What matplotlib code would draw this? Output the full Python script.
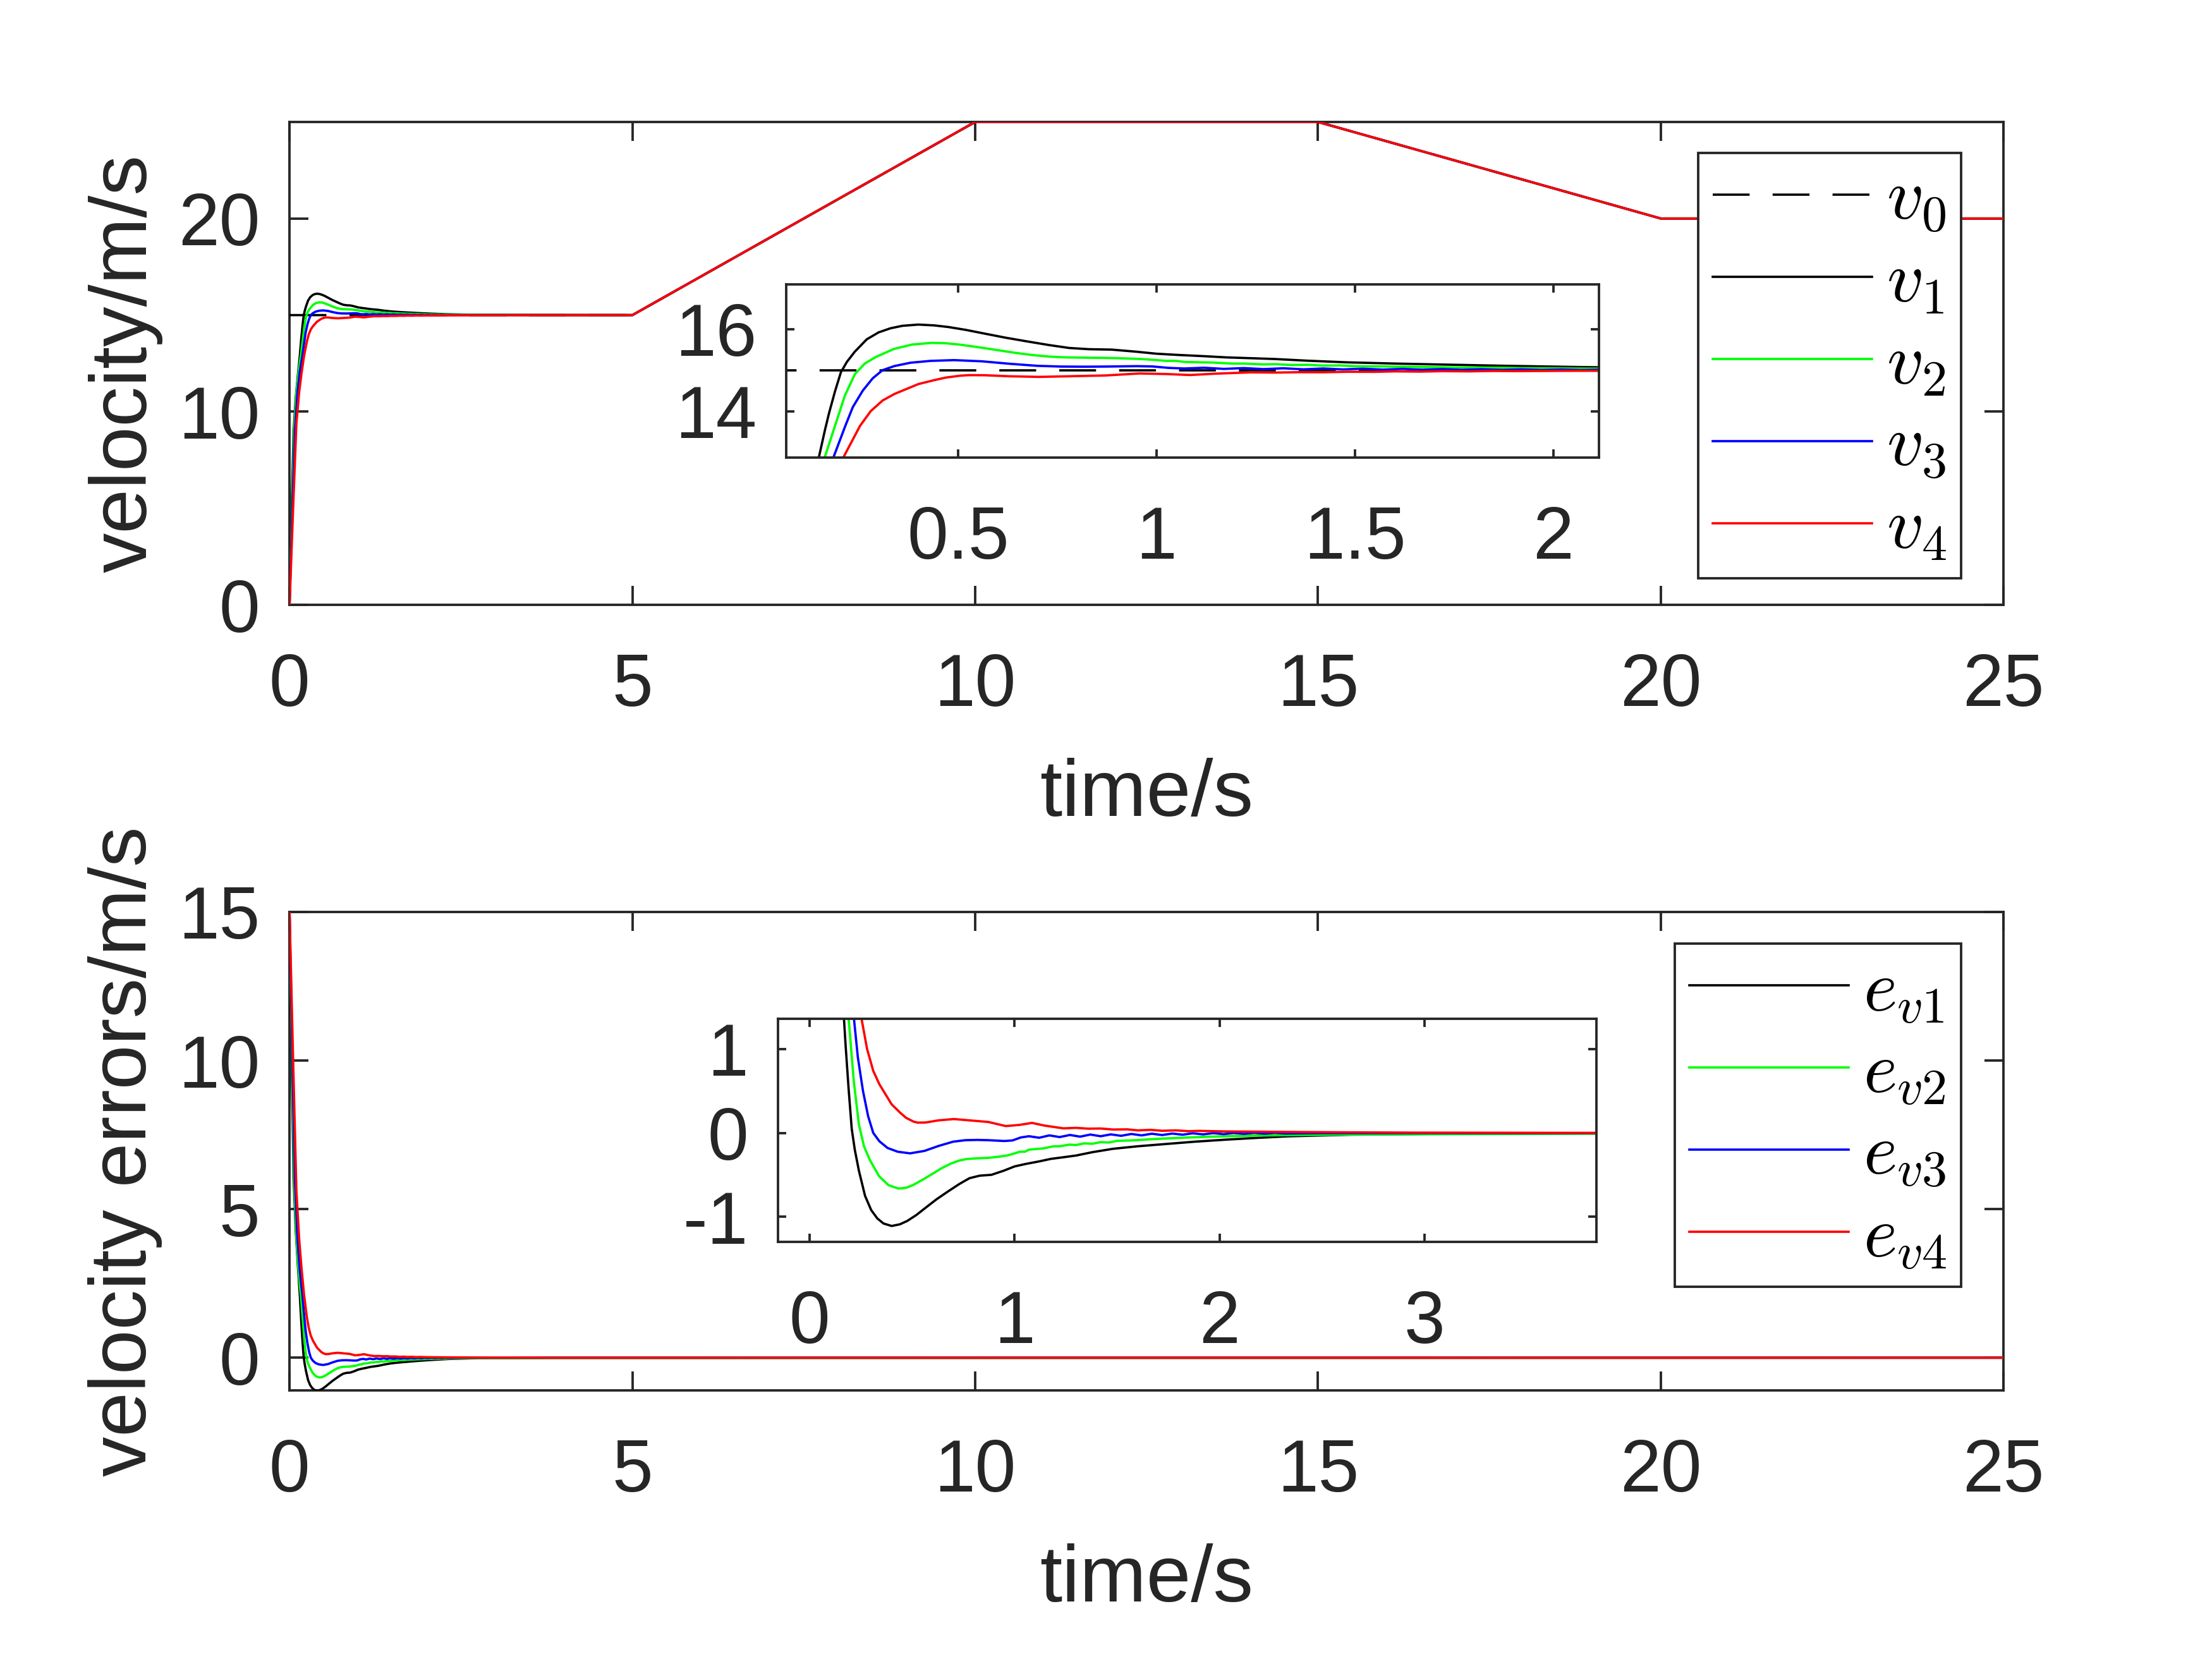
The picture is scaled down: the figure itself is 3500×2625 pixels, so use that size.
import numpy as np
import matplotlib
matplotlib.use("Agg")
import matplotlib.pyplot as plt

plt.rcParams['font.family'] = ['Liberation Sans', 'DejaVu Sans']
plt.rcParams['mathtext.fontset'] = 'cm'
plt.rcParams['axes.unicode_minus'] = False

# leader velocity v0 (breakpoints of the profile)
t_ref = [0, 5, 10, 15, 20, 25]
v_ref = [15, 15, 25, 25, 20, 20]

# velocity errors e_vi = v0 - vi of the four followers during start-up
t_e1 = [0, 0.03, 0.06, 0.09, 0.12, 0.15, 0.165, 0.175, 0.19, 0.205, 0.22, 0.24, 0.27, 0.30, 0.33,
        0.36, 0.40, 0.44, 0.476, 0.52, 0.567, 0.62, 0.674, 0.73, 0.78, 0.83, 0.887, 0.948, 1.0,
        1.055, 1.12, 1.177, 1.24, 1.30, 1.38, 1.48, 1.6, 1.726, 1.88, 2.03, 2.18, 2.335, 2.64,
        3.1, 3.84]
e_1 = [15, 10.0, 6.0, 4.3, 3.15, 2.1, 1.45, 1.05, 0.52, 0.05, -0.2, -0.45, -0.75, -0.92, -1.02,
       -1.08, -1.11, -1.09, -1.05, -0.98, -0.89, -0.79, -0.70, -0.61, -0.54, -0.51, -0.50, -0.45,
       -0.40, -0.37, -0.34, -0.31, -0.29, -0.27, -0.23, -0.19, -0.16, -0.135, -0.105, -0.081,
       -0.06, -0.041, -0.022, -0.011, -0.003]

t_e2 = [0, 0.035, 0.07, 0.1, 0.135, 0.165, 0.19, 0.215, 0.24, 0.265, 0.293, 0.338, 0.384, 0.433,
        0.47, 0.506, 0.55, 0.598, 0.645, 0.689, 0.73, 0.765, 0.82, 0.872, 0.92, 0.963, 1.0, 1.024,
        1.05, 1.07, 1.116, 1.14, 1.19, 1.22, 1.268, 1.3, 1.34, 1.38, 1.42, 1.46, 1.5, 1.57, 1.65,
        1.726, 1.8, 1.88, 1.95, 2.03, 2.18, 2.335, 2.64, 3.2, 3.84]
e_2 = [15, 10.2, 5.8, 4.0, 2.8, 2.1, 1.36, 0.62, 0.1, -0.16, -0.32, -0.515, -0.623, -0.664,
       -0.655, -0.62, -0.56, -0.49, -0.42, -0.366, -0.33, -0.312, -0.303, -0.298, -0.285, -0.27,
       -0.245, -0.225, -0.225, -0.2, -0.19, -0.185, -0.16, -0.16, -0.14, -0.145, -0.125, -0.13,
       -0.11, -0.115, -0.095, -0.09, -0.078, -0.068, -0.06, -0.052, -0.046, -0.041, -0.032,
       -0.027, -0.02, -0.015, -0.01]

t_e3 = [0, 0.04, 0.08, 0.115, 0.15, 0.186, 0.216, 0.235, 0.26, 0.285, 0.31, 0.34, 0.38, 0.43,
        0.49, 0.56, 0.63, 0.70, 0.76, 0.82, 0.87, 0.95, 0.99, 1.03, 1.07, 1.12, 1.17, 1.22, 1.27,
        1.32, 1.37, 1.42, 1.47, 1.52, 1.57, 1.62, 1.67, 1.72, 1.77, 1.82, 1.87, 1.92, 1.97, 2.02,
        2.07, 2.12, 2.17, 2.22, 2.27, 2.32, 2.5, 3.0, 3.84]
e_3 = [15, 10.2, 5.9, 4.0, 2.9, 2.13, 1.36, 0.9, 0.5, 0.2, 0.0, -0.1, -0.18, -0.225, -0.244,
       -0.215, -0.155, -0.105, -0.087, -0.084, -0.087, -0.097, -0.09, -0.055, -0.04, -0.058,
       -0.03, -0.05, -0.025, -0.045, -0.02, -0.04, -0.018, -0.035, -0.013, -0.03, -0.01, -0.026,
       -0.008, -0.022, -0.005, -0.018, -0.003, -0.015, -0.002, -0.012, 0.0, -0.01, 0.0, -0.008,
       -0.004, -0.003, -0.002]

t_e4 = [0, 0.05, 0.1, 0.14, 0.175, 0.211, 0.253, 0.28, 0.31, 0.34, 0.37, 0.40, 0.44, 0.47, 0.506,
        0.527, 0.567, 0.628, 0.704, 0.78, 0.872, 0.957, 1.024, 1.085, 1.146, 1.238, 1.3, 1.36,
        1.42, 1.48, 1.55, 1.6, 1.665, 1.72, 1.787, 1.85, 1.9, 2.03, 2.15, 2.335, 2.6, 2.945, 3.84]
e_4 = [15, 10.2, 5.6, 4.0, 3.0, 2.13, 1.36, 1.0, 0.74, 0.58, 0.46, 0.34, 0.244, 0.18, 0.135,
       0.122, 0.124, 0.149, 0.165, 0.149, 0.13, 0.081, 0.095, 0.119, 0.087, 0.054, 0.06, 0.05,
       0.052, 0.04, 0.042, 0.03, 0.036, 0.025, 0.03, 0.02, 0.024, 0.017, 0.015, 0.011, 0.007,
       0.003, 0.0]

colors = ['#000000', '#00ff00', '#0000ff', '#ff0000']
v_labels = ['$v_0$', '$v_1$', '$v_2$', '$v_3$', '$v_4$']
e_labels = ['$e_{v1}$', '$e_{v2}$', '$e_{v3}$', '$e_{v4}$']

# follower velocities = v0 - e during the transient, then they sit on the leader profile
t_vel, vel, t_err, err = [], [], [], []
for t, e in zip([t_e1, t_e2, t_e3, t_e4], [e_1, e_2, e_3, e_4]):
    t = np.array(t)
    e = np.array(e)
    t_vel.append(np.concatenate([t, t_ref[1:]]))
    vel.append(np.concatenate([v_ref[0] - e, v_ref[1:]]))
    t_err.append(np.append(t, t_ref[-1]))
    err.append(np.append(e, 0.0))

fc = '#262626'
lw = 1.05
dash = (0, (16, 10))


def style(ax, ticklen):
    ax.tick_params(direction='in', length=ticklen, width=1.1, top=True, right=True,
                   colors=fc, labelsize=33.5)
    ax.tick_params(axis='x', pad=21.6)
    ax.tick_params(axis='y', pad=13.5)
    for s in ax.spines.values():
        s.set_linewidth(1.1)
        s.set_color(fc)


def legend(ax, anchor):
    leg = ax.legend(loc='upper right', bbox_to_anchor=anchor, bbox_transform=fig.transFigure,
                    borderaxespad=0, fontsize=33, handlelength=2.2, handletextpad=0.2,
                    borderpad=0.2, labelspacing=0.2, fancybox=False, framealpha=1,
                    edgecolor=fc)
    leg.get_frame().set_linewidth(1.1)
    return leg


fig = plt.figure(figsize=(14, 10.5), dpi=250)

# ---- velocities
ax1 = fig.add_axes([0.1309, 0.6354, 0.7749, 0.2911])
ax1.plot(t_ref, v_ref, color='k', lw=lw, linestyle=dash, label=v_labels[0], zorder=3)
for i in range(4):
    ax1.plot(t_vel[i], vel[i], color=colors[i], lw=lw, label=v_labels[i + 1], zorder=3)
ax1.set_xlim(0, 25)
ax1.set_ylim(0, 25)
ax1.set_xticks([0, 5, 10, 15, 20, 25])
ax1.set_yticks([0, 10, 20])
style(ax1, 8.6)
ax1.set_xlabel('time/s', fontsize=36.5, color=fc)
ax1.set_ylabel('velocity/m/s', fontsize=36.5, color=fc)
ax1.xaxis.set_label_coords(0.5, -0.317)
ax1.yaxis.set_label_coords(-0.074, 0.5)
legend(ax1, (0.8866, 0.9078))

in1 = fig.add_axes([0.3554, 0.7242, 0.3675, 0.1044])
in1.plot(t_ref, v_ref, color='k', lw=lw, linestyle=dash)
for i in range(4):
    in1.plot(t_vel[i], vel[i], color=colors[i], lw=lw)
in1.set_xlim(0.067, 2.115)
in1.set_ylim(12.87, 17.09)
in1.set_xticks([0.5, 1, 1.5, 2])
in1.set_xticklabels(['0.5', '1', '1.5', '2'])
in1.set_yticks([14, 16])
style(in1, 3.8)

# ---- velocity errors
ax2 = fig.add_axes([0.1309, 0.1619, 0.7749, 0.2884])
for i in range(4):
    ax2.plot(t_err[i], err[i], color=colors[i], lw=lw, label=e_labels[i], zorder=3)
ax2.set_xlim(0, 25)
ax2.set_ylim(-1.1, 15)
ax2.set_xticks([0, 5, 10, 15, 20, 25])
ax2.set_yticks([0, 5, 10, 15])
style(ax2, 8.6)
ax2.set_xlabel('time/s', fontsize=36.5, color=fc)
ax2.set_ylabel('velocity errors/m/s', fontsize=36.5, color=fc)
ax2.xaxis.set_label_coords(0.5, -0.320)
ax2.yaxis.set_label_coords(-0.074, 0.5)
legend(ax2, (0.8866, 0.4312))

in2 = fig.add_axes([0.3517, 0.2514, 0.3700, 0.1345])
for i in range(4):
    in2.plot(t_err[i], err[i], color=colors[i], lw=lw)
in2.set_xlim(-0.155, 3.84)
in2.set_ylim(-1.30, 1.36)
in2.set_xticks([0, 1, 2, 3])
in2.set_yticks([-1, 0, 1])
style(in2, 3.8)

fig.savefig('out.png', dpi=250)
